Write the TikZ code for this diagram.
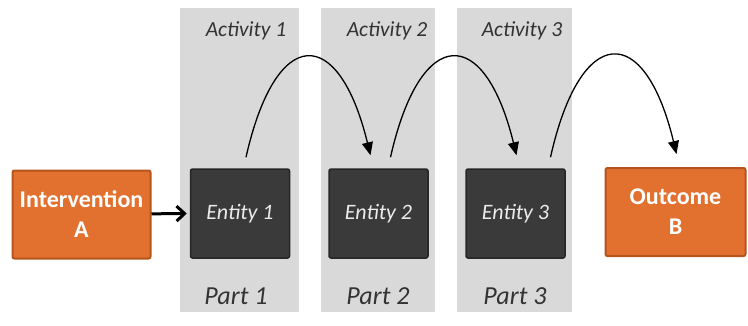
\documentclass[tikz,border=0pt]{standalone}
\usepackage{fontspec}
\setmainfont{Carlito}
\usetikzlibrary{arrows.meta}
\definecolor{columngray}{HTML}{D9D9D9}
\definecolor{entityfill}{HTML}{3A3A3A}
\definecolor{entityline}{HTML}{262626}
\definecolor{orangefill}{HTML}{E2712F}
\definecolor{orangeline}{HTML}{B5541D}
\definecolor{labelgray}{HTML}{333333}
\begin{document}
\begin{tikzpicture}[x=1pt, y=-1pt]
    \tikzstyle{column_style}=[fill=columngray, draw=none]
    \tikzstyle{entity_style}=[rectangle, rounded corners=2pt, fill=entityfill, draw=entityline, line width=1.5pt, minimum width=99pt, minimum height=89pt, text=white!92!black, font=\fontsize{22}{26}\selectfont\itshape]
    \tikzstyle{orange_style}=[rectangle, rounded corners=2pt, fill=orangefill, draw=orangeline, line width=2pt, minimum height=88pt, text=white, align=center, font=\fontsize{24}{30}\selectfont\bfseries]
    \tikzstyle{activity_style}=[text=labelgray, font=\fontsize{21.5}{24}\selectfont\itshape]
    \tikzstyle{part_style}=[text=labelgray, font=\fontsize{26}{30}\selectfont\itshape]
    \tikzstyle{jump_style}=[line width=1.3pt, -{Triangle[length=13pt, width=11pt]}]
    \useasboundingbox (0,0) rectangle (748,325);

    % columns
    \fill[column_style] (180,8) rectangle (299,312);
    \fill[column_style] (321,8) rectangle (435,312);
    \fill[column_style] (457,8) rectangle (572,312);

    % intervention and outcome
    \draw node at (81.5, 214.5) [orange_style, minimum width=138pt] (intervention) {Intervention\\A};
    \draw node at (675.5, 212) [orange_style, minimum width=140pt] (outcome) {Outcome\\B};

    % entities
    \draw node at (240, 213.5) [entity_style] (entity_1) {Entity 1};
    \draw node at (378.5, 213.5) [entity_style] (entity_2) {Entity 2};
    \draw node at (515.5, 213.5) [entity_style] (entity_3) {Entity 3};

    % activities and parts
    \draw node at (246, 31) [activity_style] (activity_1) {Activity 1};
    \draw node at (387, 31) [activity_style] (activity_2) {Activity 2};
    \draw node at (522, 31) [activity_style] (activity_3) {Activity 3};
    \foreach \x/\p in {236/1, 378/2, 515/3}
      \draw node at (\x, 296) [part_style] (part_\p) {Part \p};

    % connect: intervention -> entity 1
    \draw[line width=3pt, -{Straight Barb[length=8pt, width=15pt]}] (intervention) -- ([xshift=-3pt]entity_1.west);

    % connect: entity -> entity -> outcome
    \draw[jump_style] ([xshift=6pt, yshift=11pt]entity_1.north) .. controls +(30,-133) and +(-32,-131) .. ([xshift=-8pt, yshift=13pt]entity_2.north);
    \draw[jump_style] ([xshift=12pt, yshift=11pt]entity_2.north) .. controls +(30,-133) and +(-32,-131) .. ([xshift=1pt, yshift=13pt]entity_3.north);
    \draw[jump_style] ([xshift=35pt, yshift=11pt]entity_3.north) .. controls +(30,-134) and +(-32,-133) .. ([xshift=1pt, yshift=13pt]outcome.north);

\end{tikzpicture}
\end{document}
